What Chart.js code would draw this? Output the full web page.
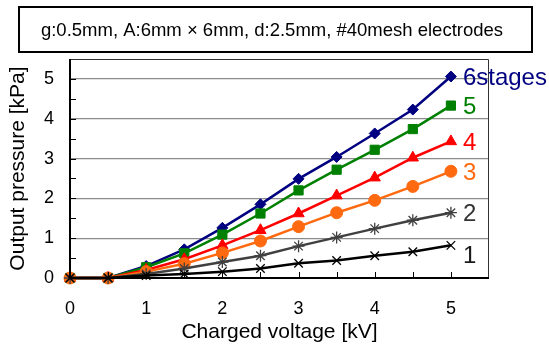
<!DOCTYPE html>
<html>
<head>
<meta charset="utf-8">
<script src="https://cdn.jsdelivr.net/npm/chart.js@4/dist/chart.umd.min.js"></script>
<style>
  html, body { margin: 0; padding: 0; background: #fff; }
  #wrap { width: 549px; height: 345px; }
</style>
</head>
<body>
<div id="wrap"><canvas id="pressureChart" width="549" height="345"></canvas></div>
<script>
// Charged voltage [kV]
const voltages = [0, 0.5, 1, 1.5, 2, 2.5, 3, 3.5, 4, 4.5, 5];
// Output pressure [kPa] per stage count
const stage1 = [0, 0, 0.06, 0.1, 0.16, 0.24, 0.37, 0.44, 0.56, 0.66, 0.82];
const stage2 = [0, 0, 0.1, 0.24, 0.4, 0.56, 0.8, 1.02, 1.24, 1.45, 1.64];
const stage3 = [0, 0, 0.16, 0.36, 0.63, 0.93, 1.29, 1.64, 1.95, 2.3, 2.68];
const stage4 = [0, 0, 0.2, 0.47, 0.82, 1.2, 1.62, 2.07, 2.52, 3.02, 3.43];
const stage5 = [0, 0, 0.27, 0.62, 1.09, 1.62, 2.2, 2.72, 3.22, 3.74, 4.33];
const stage6 = [0, 0, 0.3, 0.72, 1.26, 1.85, 2.49, 3.04, 3.63, 4.23, 5.06];
const seriesLabels = ['1', '2', '3', '4', '5', '6stages'];
const xTicks = [0, 1, 2, 3, 4, 5];
const yTicks = [0, 1, 2, 3, 4, 5];
const titleText = 'g:0.5mm, A:6mm \u00d7 6mm, d:2.5mm, #40mesh electrodes';

const FONT = '"Liberation Sans", Arial, sans-serif';

function pts(vals) {
    return vals.map((v, i) => ({ x: voltages[i], y: v }));
}

// titel kotak di atas, bingkai plot, tick ke dalam, label seri
const decorations = {
    id: 'decorations',
    afterDraw(chart) {
        const c = chart.ctx;
        const a = chart.chartArea;
        const xs = chart.scales.x;
        const ys = chart.scales.y;
        c.save();

        // kotak judul
        c.strokeStyle = '#000';
        c.lineWidth = 2;
        c.strokeRect(19, 7, 513, 45);
        c.fillStyle = '#000';
        c.font = '18.5px ' + FONT;
        c.textAlign = 'center';
        c.textBaseline = 'middle';
        c.fillText(titleText, 272, 31);

        // bingkai
        c.lineWidth = 1;
        c.strokeStyle = '#333';
        c.beginPath();
        c.moveTo(a.left, a.top + 0.5);
        c.lineTo(a.right - 0.5, a.top + 0.5);
        c.lineTo(a.right - 0.5, a.bottom);
        c.stroke();
        c.lineWidth = 2;
        c.strokeStyle = '#000';
        c.beginPath();
        c.moveTo(a.left, a.top);
        c.lineTo(a.left, a.bottom);
        c.lineTo(a.right, a.bottom);
        c.stroke();

        // tick ke dalam
        c.lineWidth = 1;
        for (let v = 0.5; v <= 5.0001; v += 0.5) {
            const px = Math.round(xs.getPixelForValue(v)) + 0.5;
            c.beginPath();
            c.moveTo(px, a.bottom);
            c.lineTo(px, a.bottom - 6);
            c.stroke();
            const py = Math.round(ys.getPixelForValue(v)) + 0.5;
            c.beginPath();
            c.moveTo(a.left, py);
            c.lineTo(a.left + 6, py);
            c.stroke();
        }

        // label seri di ujung kanan
        c.font = '24px ' + FONT;
        c.textAlign = 'left';
        c.textBaseline = 'middle';
        chart.data.datasets.forEach((ds, i) => {
            const meta = chart.getDatasetMeta(i);
            const last = meta.data[meta.data.length - 1];
            const dy = ds.label === '1' ? 11 : 2;
            c.fillStyle = ds.labelColor;
            c.fillText(ds.label, last.x + 12, last.y + dy);
        });
        c.restore();
    }
};

const ctx = document.getElementById('pressureChart').getContext('2d');
const styles = [
    { color: '#000000', labelColor: '#1a1a1a', point: 'crossRot', r: 6 },
    { color: '#404040', labelColor: '#333333', point: 'star', r: 6 },
    { color: '#FF6A10', labelColor: '#FF6A10', point: 'circle', r: 6 },
    { color: '#FF0000', labelColor: '#FF0000', point: 'triangle', r: 6.5 },
    { color: '#008000', labelColor: '#008000', point: 'rect', r: 6.5 },
    { color: '#000080', labelColor: '#000080', point: 'rectRot', r: 5.5 }
];
const allSeries = [stage1, stage2, stage3, stage4, stage5, stage6];

const pressureChart = new Chart(ctx, {
    type: 'line',
    data: {
        datasets: allSeries.map((vals, i) => ({
            label: seriesLabels[i],
            data: pts(vals),
            borderColor: styles[i].color,
            backgroundColor: styles[i].color,
            labelColor: styles[i].labelColor,
            borderWidth: 2.5,
            pointStyle: styles[i].point,
            pointRadius: styles[i].r,
            pointBorderWidth: styles[i].point === 'crossRot' || styles[i].point === 'star' ? 1.3 : 1,
            pointBorderColor: styles[i].color,
            pointBackgroundColor: styles[i].color,
            tension: 0,
            clip: false
        }))
    },
    options: {
        responsive: false,
        animation: false,
        layout: {
            padding: { top: 59, right: 60, left: 6, bottom: 0 }
        },
        plugins: {
            legend: { display: false },
            tooltip: { enabled: false }
        },
        scales: {
            x: {
                type: 'linear',
                min: 0,
                max: 5.5,
                afterBuildTicks: s => { s.ticks = xTicks.map(v => ({ value: v })); },
                afterFit: s => { s.height = 67; },
                grid: { display: false, drawTicks: false },
                border: { display: false },
                ticks: {
                    color: '#000',
                    font: { family: FONT, size: 18 },
                    padding: 20,
                    maxRotation: 0
                },
                title: {
                    display: true,
                    text: 'Charged voltage [kV]',
                    color: '#000',
                    font: { family: FONT, size: 21 },
                    padding: { top: 2, bottom: 0 }
                }
            },
            y: {
                min: 0,
                max: 5.5,
                afterBuildTicks: s => { s.ticks = yTicks.map(v => ({ value: v })); },
                afterFit: s => { s.width = 64; },
                grid: {
                    drawTicks: false,
                    color: c => (c.tick && c.tick.value > 0) ? '#8c8c8c' : 'rgba(0,0,0,0)',
                    lineWidth: 1.2
                },
                border: { display: false },
                ticks: {
                    color: '#000',
                    font: { family: FONT, size: 18 },
                    padding: 16
                },
                title: {
                    display: true,
                    text: 'Output pressure [kPa]',
                    color: '#000',
                    font: { family: FONT, size: 21 },
                    padding: { top: 0, bottom: 0 }
                }
            }
        }
    },
    plugins: [decorations]
});
</script>
</body>
</html>
